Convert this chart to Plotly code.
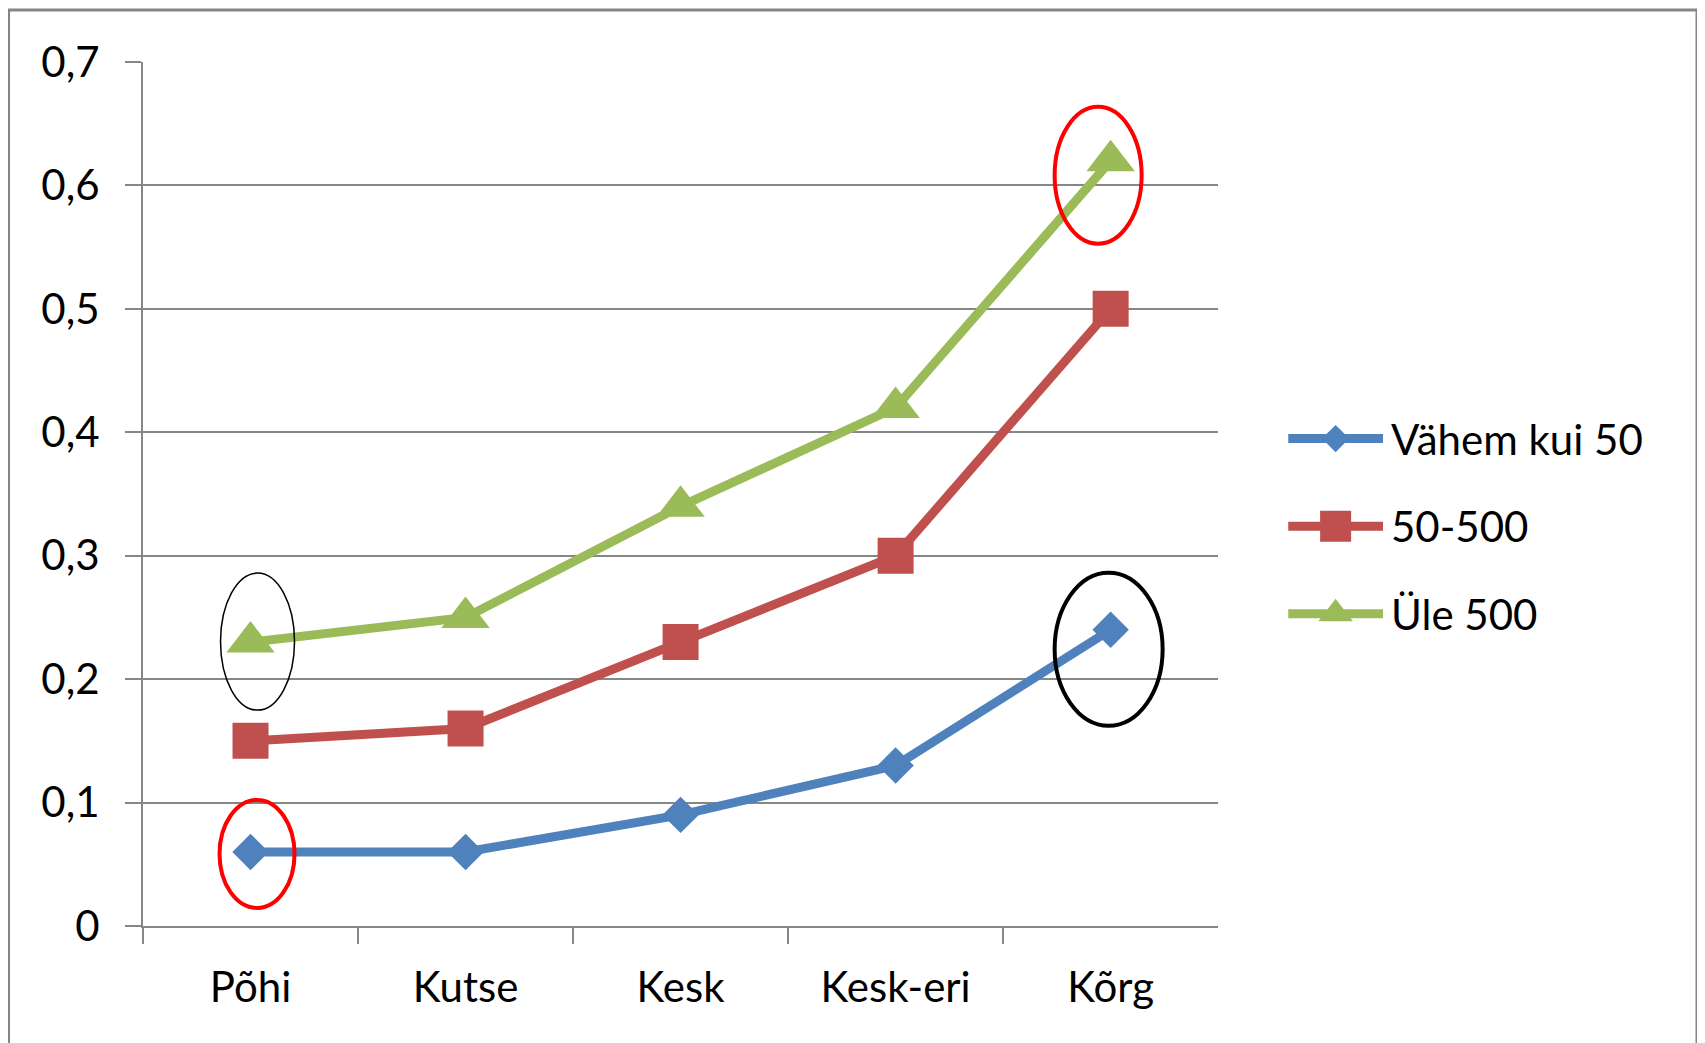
import plotly.graph_objects as go

categories = ["Põhi", "Kutse", "Kesk", "Kesk-eri", "Kõrg"]
series_names = ["Vähem kui 50", "50-500", "Üle 500"]
vahem_kui_50 = [0.06, 0.06, 0.09, 0.13, 0.24]
v50_500 = [0.15, 0.16, 0.23, 0.30, 0.50]
ule_500 = [0.23, 0.25, 0.34, 0.42, 0.62]
y_tickvals = [0, 0.1, 0.2, 0.3, 0.4, 0.5, 0.6, 0.7]
y_ticktext = ["0", "0,1", "0,2", "0,3", "0,4", "0,5", "0,6", "0,7"]

colors = ["#4F81BD", "#C0504D", "#9BBB59"]
symbols = ["diamond", "square", "triangle-up"]
msizes = [28, 36, 42]
legend_msizes = [21, 31, 30]
values = [vahem_kui_50, v50_500, ule_500]

# figure is placed by the page with an 8px body offset
W, H = 1697, 1035
ML, MT, MB = 134.5, 54, 116.5
PLOT_RIGHT = 1210
PW = W - ML          # plotting width (right margin 0)
PH = H - MT - MB
FONT = "Lato, Carlito, Calibri, sans-serif"
FS = 42

fig = go.Figure()
for i in range(3):
    fig.add_trace(go.Scatter(
        x=categories, y=values[i], name=series_names[i], mode="lines+markers",
        line=dict(color=colors[i], width=9),
        marker=dict(symbol=symbols[i], size=msizes[i], color=colors[i], opacity=1),
        showlegend=False,
    ))

# legend keys drawn on an auxiliary, hidden axis pair
for i in range(3):
    fig.add_trace(go.Scatter(
        x=[0, 1], y=[i, i], xaxis="x2", yaxis="y2",
        mode="lines", hoverinfo="skip", showlegend=False,
        line=dict(color=colors[i], width=9),
    ))
    fig.add_trace(go.Scatter(
        x=[0.5], y=[i], xaxis="x2", yaxis="y2",
        mode="markers", hoverinfo="skip", showlegend=False,
        marker=dict(symbol=symbols[i], size=legend_msizes[i], color=colors[i], opacity=1),
    ))
    fig.add_annotation(x=1, y=i, xref="x2", yref="y2", text=series_names[i],
                       showarrow=False, xanchor="left", yanchor="middle",
                       xshift=6, font=dict(size=FS, color="#000000"))

# highlight ellipses anchored on data points (pixel-sized)
ellipses = [
    (0, vahem_kui_50[0], -31, 44, -56, 52, "#FF0000", 4),
    (4, ule_500[4], -56, 31, -83, 54, "#FF0000", 4),
    (0, ule_500[0], -30, 44, -68, 69, "#000000", 1.5),
    (4, vahem_kui_50[4], -56, 52, -96, 57, "#000000", 4),
]
for ci, v, x0, x1, y0, y1, c, w in ellipses:
    fig.add_shape(type="circle", xref="x", yref="y",
                  xsizemode="pixel", ysizemode="pixel",
                  xanchor=ci, yanchor=v, x0=x0, x1=x1, y0=y0, y1=y1,
                  line=dict(color=c, width=w), fillcolor="rgba(0,0,0,0)")

# outer chart border
fig.add_shape(type="rect", xref="paper", yref="paper",
              x0=(0 - ML) / PW, x1=(1689 - ML) / PW,
              y0=(H - MB - 1060) / PH, y1=(H - MB - 2) / PH,
              line=dict(color="#868686", width=3), layer="below")

fig.update_layout(
    width=W, height=H,
    margin=dict(l=ML, r=0, t=MT, b=MB, pad=0),
    paper_bgcolor="white", plot_bgcolor="white",
    font=dict(family=FONT, size=FS, color="#000000"),
    showlegend=False,
    xaxis=dict(
        domain=[0, (PLOT_RIGHT - ML) / PW],
        type="category", range=[-0.5, 4.5],
        showline=True, linecolor="#868686", linewidth=2,
        ticks="outside", tickson="boundaries", ticklen=16, tickcolor="#868686", tickwidth=2,
        showgrid=False, ticklabelstandoff=24,
    ),
    yaxis=dict(
        range=[0, 0.7], tickvals=y_tickvals, ticktext=y_ticktext,
        showline=True, linecolor="#868686", linewidth=2,
        ticks="outside", ticklen=16, tickcolor="#868686", tickwidth=2,
        showgrid=True, gridcolor="#868686", gridwidth=2, zeroline=False,
        ticklabelstandoff=17,
    ),
    xaxis2=dict(domain=[(1280 - ML) / PW, (1375 - ML) / PW], range=[0, 1],
                visible=False, anchor="y2", fixedrange=True),
    yaxis2=dict(domain=[(H - MB - 650) / PH, (H - MB - 387) / PH],
                range=[2.5, -0.5], visible=False, anchor="x2", fixedrange=True),
)

fig.write_html("out.html")
